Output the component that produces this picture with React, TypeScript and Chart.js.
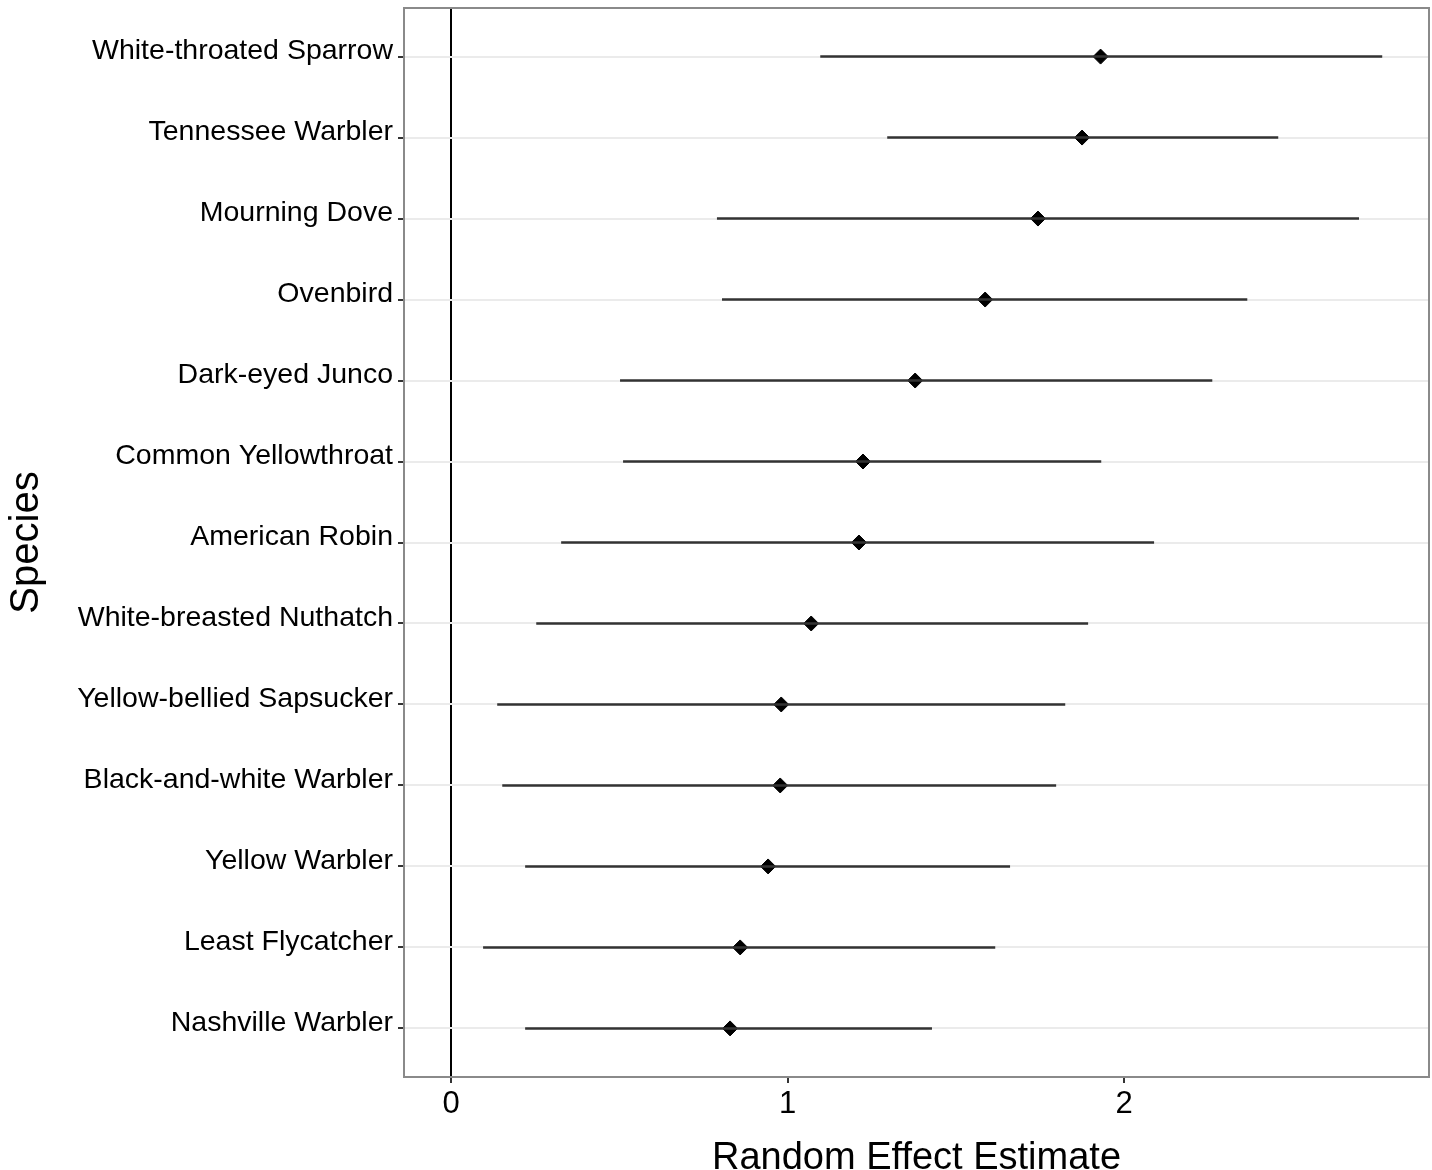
import React, { useEffect, useRef } from "react";
import { Chart, registerables } from "chart.js";

Chart.register(...registerables);

const species = [
  "White-throated Sparrow",
  "Tennessee Warbler",
  "Mourning Dove",
  "Ovenbird",
  "Dark-eyed Junco",
  "Common Yellowthroat",
  "American Robin",
  "White-breasted Nuthatch",
  "Yellow-bellied Sapsucker",
  "Black-and-white Warbler",
  "Yellow Warbler",
  "Least Flycatcher",
  "Nashville Warbler",
];
const estimate = [1.93, 1.875, 1.744, 1.587, 1.379, 1.224, 1.212, 1.07, 0.981, 0.978, 0.942, 0.859, 0.829];
const lower = [1.097, 1.296, 0.79, 0.805, 0.502, 0.511, 0.327, 0.253, 0.137, 0.152, 0.22, 0.095, 0.22];
const upper = [2.767, 2.458, 2.698, 2.366, 2.262, 1.932, 2.089, 1.893, 1.825, 1.798, 1.661, 1.617, 1.429];
const xTicks = [0, 1, 2];

const FONT = "'Liberation Sans', Arial, Helvetica, sans-serif";

const panelBorder = {
  id: "panelBorder",
  afterDatasetsDraw(chart: any) {
    const { ctx, chartArea } = chart;
    ctx.save();
    ctx.strokeStyle = "#8a8a8a";
    ctx.lineWidth = 2;
    ctx.strokeRect(chartArea.left, chartArea.top, chartArea.right - chartArea.left, chartArea.bottom - chartArea.top);
    ctx.restore();
  },
};

const zeroPad = (s: any) => {
  s.paddingLeft = 0;
  s.paddingRight = 0;
  s.paddingTop = 0;
  s.paddingBottom = 0;
};

export default function App() {
  const ref = useRef<HTMLCanvasElement>(null);
  useEffect(() => {
    document.body.style.margin = "0";
    const lineSets = species.map((s, i) => ({
      type: "line" as const,
      label: s,
      data: [
        { x: lower[i], y: i },
        { x: upper[i], y: i },
      ],
      borderColor: "#333333",
      borderWidth: 2.5,
      pointRadius: 0,
      showLine: true,
    }));
    const pointSet = {
      type: "scatter" as const,
      label: "Estimate",
      data: species.map((_, i) => ({ x: estimate[i], y: i })),
      pointStyle: "rectRot",
      pointRadius: 7.5,
      backgroundColor: "#000000",
      borderColor: "#000000",
      borderWidth: 1,
    };
    const chart = new Chart(ref.current!, {
      type: "scatter",
      data: { datasets: [...lineSets, pointSet] as any },
      options: {
        animation: false,
        responsive: false,
        devicePixelRatio: 1,
        layout: { autoPadding: false, padding: { top: 8, right: 3, left: 0, bottom: 0 } },
        plugins: { legend: { display: false }, tooltip: { enabled: false } },
        scales: {
          x: {
            type: "linear",
            min: -0.14,
            max: 2.906,
            afterBuildTicks: (s: any) => {
              s.ticks = xTicks.map((v) => ({ value: v }));
            },
            afterFit: (s: any) => {
              s.height = 93;
              zeroPad(s);
            },
            border: { display: false },
            grid: {
              color: (c: any) => (c.tick && c.tick.value === 0 ? "#000000" : "rgba(0,0,0,0)"),
              lineWidth: 2,
              tickColor: "#333333",
              tickWidth: 2,
              tickLength: 6,
            },
            ticks: {
              color: "#000000",
              font: { family: FONT, size: 31 },
              padding: 3,
              maxRotation: 0,
              callback: (v: any) => String(v),
            },
            title: {
              display: true,
              text: "Random Effect Estimate",
              color: "#000000",
              font: { family: FONT, size: 38, lineHeight: 0.6 },
              padding: 0,
            },
          },
          y: {
            type: "linear",
            reverse: true,
            min: -0.6,
            max: 12.6,
            afterBuildTicks: (s: any) => {
              s.ticks = species.map((_, i) => ({ value: i }));
            },
            afterFit: (s: any) => {
              s.width = 404;
              zeroPad(s);
            },
            border: { display: false },
            grid: {
              color: "#ebebeb",
              lineWidth: 2,
              tickColor: "#333333",
              tickWidth: 2,
              tickLength: 6,
            },
            ticks: {
              color: "#000000",
              font: { family: FONT, size: 28.5 },
              padding: 5,
              labelOffset: -5,
              autoSkip: false,
              callback: (v: any) => species[v as number] ?? "",
            },
            title: {
              display: true,
              text: "Species",
              color: "#000000",
              font: { family: FONT, size: 40, lineHeight: 1 },
              padding: { top: 7, bottom: 0 },
            },
          },
        },
      },
      plugins: [panelBorder],
    });
    return () => chart.destroy();
  }, []);
  return (
    <div style={{ width: 1432, height: 1170, background: "#ffffff" }}>
      <canvas ref={ref} width={1432} height={1170} style={{ display: "block" }} />
    </div>
  );
}
